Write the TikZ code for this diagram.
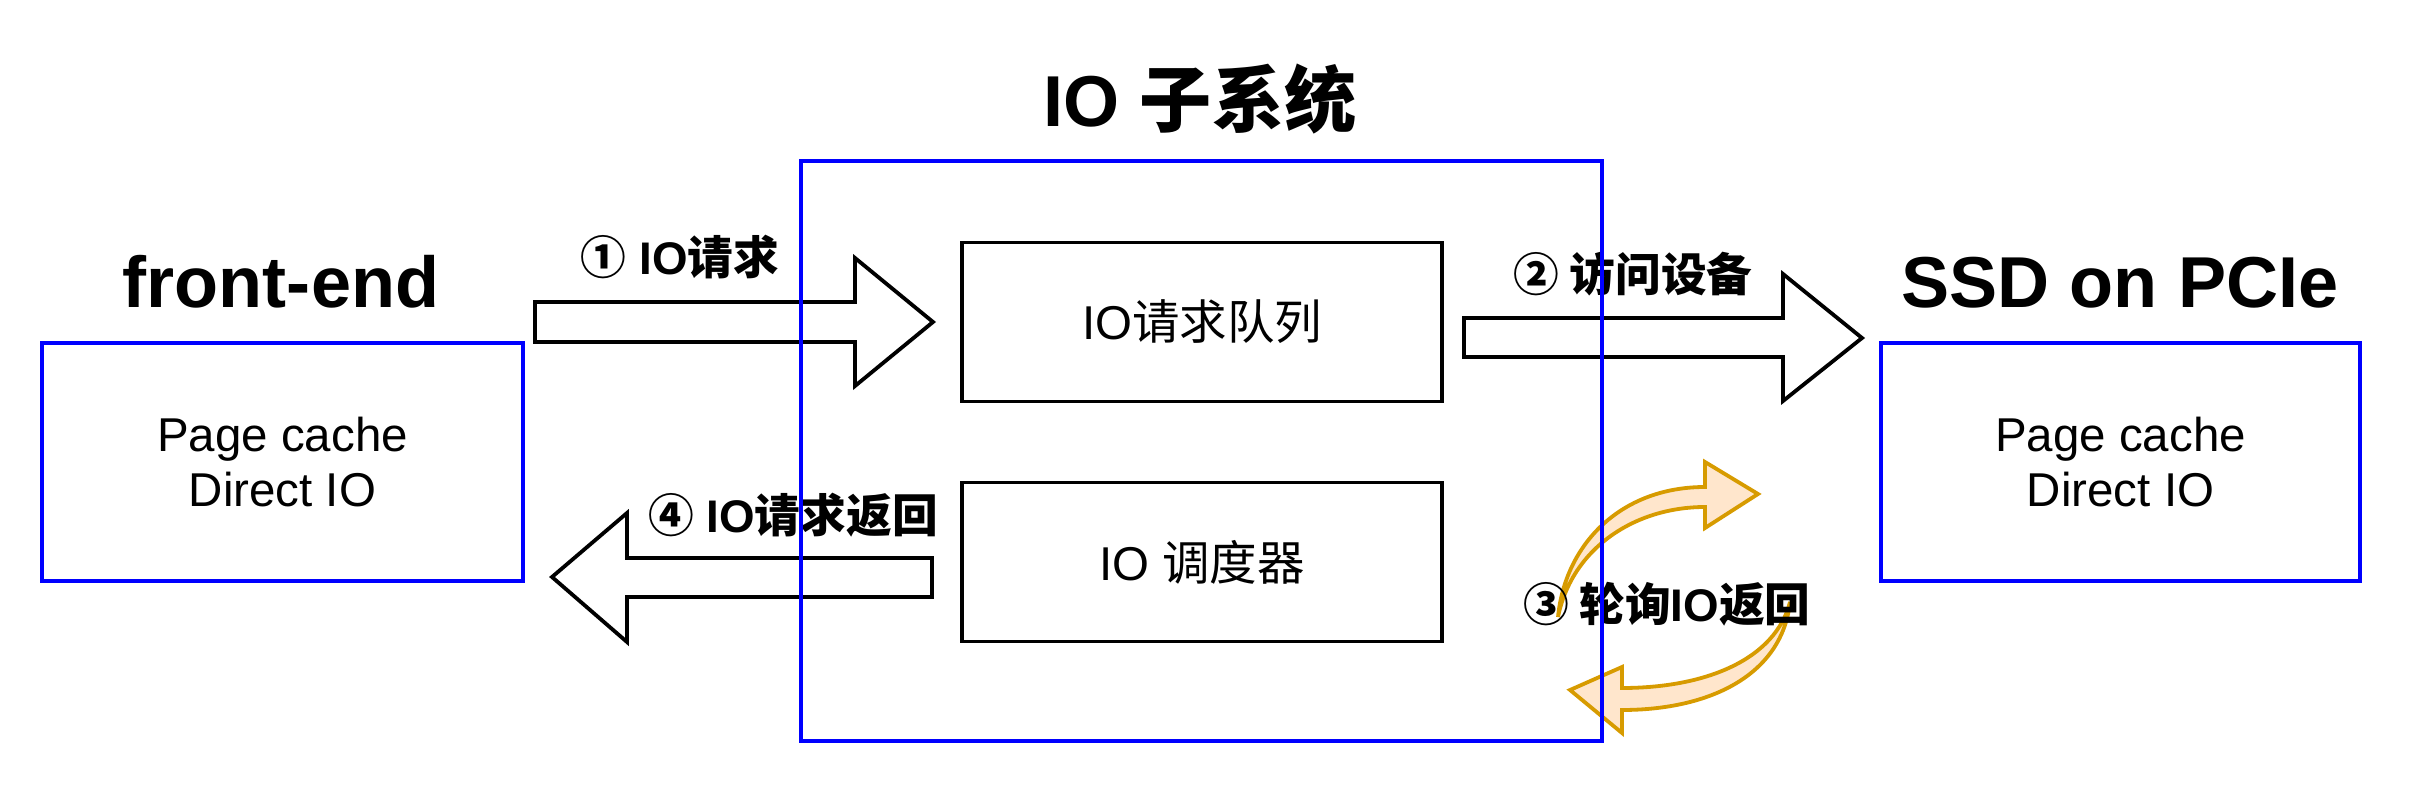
\documentclass[tikz,border=0pt]{standalone}
\usepackage{fontspec}
\setmainfont{Liberation Sans}
\newfontfamily\cjk{Noto Sans CJK SC}
\newcommand{\zhtxt}[1]{{\cjk #1}}
\definecolor{blueline}{HTML}{0000FF}
\definecolor{pollfill}{HTML}{FFE6CC}
\definecolor{polldraw}{HTML}{D79B00}

\tikzset{
    bluebox/.style={draw=blueline, line width=0.038cm, align=center, font=\fontsize{13.5}{15.6}\selectfont},
    innerbox/.style={draw, line width=0.038cm, minimum width=4.8cm, minimum height=1.59cm, font=\fontsize{13.5}{15.6}\selectfont},
    heading/.style={font=\bfseries\fontsize{20.5}{24}\selectfont, anchor=base, inner sep=0pt},
    steplabel/.style={font=\bfseries\fontsize{13}{15}\selectfont, anchor=base, inner sep=0pt},
    blockarrow/.style={draw, line width=0.038cm, line join=miter},
    pollarrow/.style={draw=polldraw, fill=pollfill, line width=0.038cm}
}

\begin{document}
\begin{tikzpicture}[x=0.01cm, y=-0.01cm]
    \useasboundingbox (0,0) rectangle (2416,804);

    % end points
    \node[bluebox, minimum width=4.81cm, minimum height=2.38cm] (frontend) at (282.5,462) {Page cache\\Direct IO};
    \node[bluebox, minimum width=4.79cm, minimum height=2.38cm] (ssd) at (2120.5,462) {Page cache\\Direct IO};

    % inside the IO subsystem
    \node[innerbox] (queue) at (1202,322) {IO\zhtxt{请求队列}};
    \node[innerbox] (sched) at (1202,562) {IO \zhtxt{调度器}};

    % block arrows
    \draw[blockarrow] (535,302) -- (855,302) -- (855,258) -- (933,322) -- (855,386) -- (855,342) -- (535,342) -- cycle;
    \draw[blockarrow] (1464,318) -- (1783,318) -- (1783,274) -- (1862,338) -- (1783,401) -- (1783,357) -- (1464,357) -- cycle;
    \draw[blockarrow] (932,558) -- (627,558) -- (627,513) -- (552,577) -- (627,642) -- (627,597) -- (932,597) -- cycle;

    % polling arrows
    \draw[pollarrow] (1558,617) .. controls (1565,545) and (1620,487) .. (1705,487)
        -- (1705,462) -- (1758,494) -- (1705,528) -- (1705,507)
        .. controls (1635,507) and (1572,548) .. (1558,617) -- cycle;
    \draw[pollarrow] (1790,602) .. controls (1782,675) and (1710,710) .. (1622,710)
        -- (1622,733) -- (1570,690) -- (1622,667) -- (1622,688)
        .. controls (1705,688) and (1775,660) .. (1790,602) -- cycle;

    % labels
    \node[steplabel] (req) at (680,275) {\zhtxt{①} IO\zhtxt{请求}};
    \node[steplabel] (visit) at (1633,292) {\zhtxt{② 访问设备}};
    \node[steplabel] (poll) at (1667,622) {\zhtxt{③ 轮询}IO\zhtxt{返回}};
    \node[steplabel] (ret) at (793,533) {\zhtxt{④} IO\zhtxt{请求返回}};

    % titles
    \node[heading] (iotitle) at (1200,127) {IO \zhtxt{子系统}};
    \node[heading] (fetitle) at (281,308) {front-end};
    \node[heading] (ssdtitle) at (2120,308) {SSD on PCIe};

    % IO subsystem frame
    \node[bluebox, minimum width=8.01cm, minimum height=5.8cm] (iosys) at (1201.5,451) {};
\end{tikzpicture}
\end{document}
